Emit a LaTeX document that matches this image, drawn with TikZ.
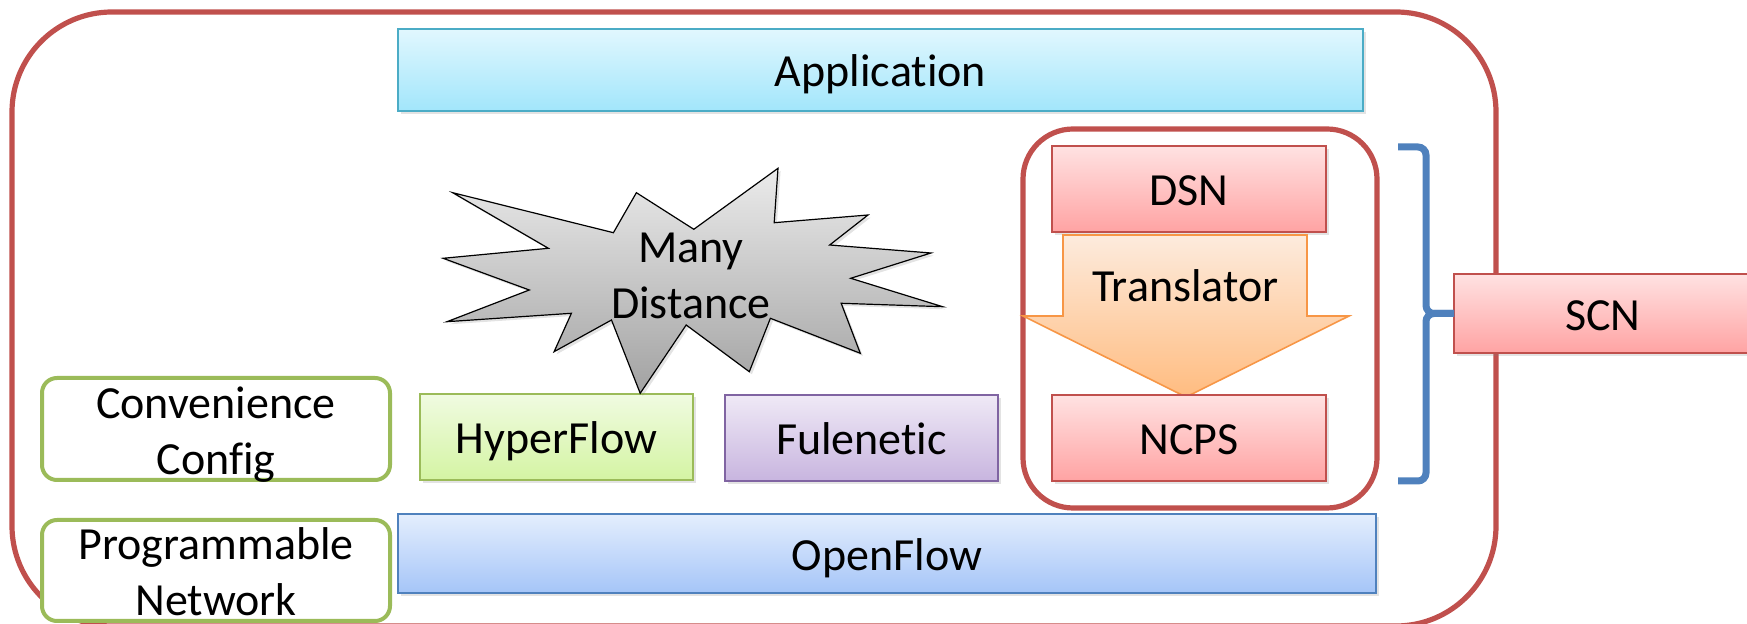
\documentclass[tikz,border=0pt]{standalone}
\usepackage{fontspec}
\setmainfont{Carlito}[Ligatures={NoCommon}]
\usetikzlibrary{shadows}

\definecolor{accRed}{HTML}{C0504D}
\definecolor{accBlue}{HTML}{4F81BD}
\definecolor{accGreen}{HTML}{9BBB59}
\definecolor{accPurple}{HTML}{8064A2}
\definecolor{accAqua}{HTML}{4BACC6}
\definecolor{accOrange}{HTML}{F79646}

\definecolor{aquaTop}{HTML}{E1F7FE}
\definecolor{aquaBot}{HTML}{A2E6FB}
\definecolor{greenTop}{HTML}{F0FBE1}
\definecolor{greenBot}{HTML}{D4F4A3}
\definecolor{purpleTop}{HTML}{EFE9F6}
\definecolor{purpleBot}{HTML}{C8B5DF}
\definecolor{redTop}{HTML}{FFE2E2}
\definecolor{redBot}{HTML}{FFA3A3}
\definecolor{blueTop}{HTML}{E4EEFD}
\definecolor{blueBot}{HTML}{A5C5F8}
\definecolor{orangeTop}{HTML}{FDEBDD}
\definecolor{orangeBot}{HTML}{FFBC80}
\definecolor{grayTop}{HTML}{EBEBEB}
\definecolor{grayBot}{HTML}{A2A2A2}

\begin{document}
\begin{tikzpicture}[x=0.5pt,y=-0.5pt,
  every node/.style={font=\fontsize{23}{28}\selectfont, inner sep=0pt, outer sep=0pt},
  softshadow/.style={drop shadow={shadow xshift=1.3pt, shadow yshift=-1.3pt, opacity=0.22}},
  layer/.style={draw, line width=1pt, text height=23pt, text depth=6pt, softshadow},
  aqualayer/.style={layer, draw=accAqua, top color=aquaTop, bottom color=aquaBot},
  greenlayer/.style={layer, draw=accGreen, top color=greenTop, bottom color=greenBot},
  purplelayer/.style={layer, draw=accPurple, top color=purpleTop, bottom color=purpleBot},
  redlayer/.style={layer, draw=accRed, top color=redTop, bottom color=redBot},
  bluelayer/.style={layer, draw=accBlue, top color=blueTop, bottom color=blueBot},
  frame/.style={draw=accRed, line width=2.6pt},
  tagbox/.style={draw=accGreen, line width=2pt, fill=white, rounded corners=7.5pt,
    minimum width=174pt},
  brace/.style={draw=accBlue, line width=3.5pt, rounded corners=4pt},
  burst/.style={draw=black, line width=0.6pt, top color=grayTop, bottom color=grayBot, softshadow},
  translate/.style={draw=accOrange, line width=0.8pt, top color=orangeTop, bottom color=orangeBot}
]
\useasboundingbox (0,0) rectangle (1747,624);

% whole system frame
\node[frame, rounded corners=50pt, minimum width=742pt, minimum height=307pt]
  (system) at (754,319) {};

% application layer
\node[aqualayer, minimum width=482.5pt, minimum height=41pt]
  (app) at (880.5,70) {Application};

% SCN group: DSN translated into NCPS
\node[frame, rounded corners=25pt, minimum width=177pt, minimum height=189.5pt]
  (scnframe) at (1200,318.5) {};
\node[redlayer, minimum width=137pt, minimum height=43pt] (dsn) at (1189,189) {DSN};
\filldraw[translate] (1063,235) -- (1307,235) -- (1307,316) -- (1349,316)
  -- (1186,397) -- (1023,316) -- (1063,316) -- cycle;
\node[anchor=base] (translator) at (1185.5,302) {Translator};
\node[redlayer, minimum width=137pt, minimum height=43pt] (ncps) at (1189,438) {NCPS};

% other configuration frameworks
\node[greenlayer, minimum width=136.5pt, minimum height=43pt] (hyper) at (556.5,437) {HyperFlow};
\node[purplelayer, minimum width=136.5pt, minimum height=43pt] (fule) at (861.5,438) {Fulenetic};

% forwarding layer
\node[bluelayer, minimum width=489pt, minimum height=39.5pt] (openflow) at (887,553.5) {OpenFlow};

% explosion shape
\path[burst] (452.7,192.7) -- (613.4,232.7) -- (636.4,192.7) -- (693.8,229.3)
  -- (778,168.3) -- (774.2,222.7) -- (868,215) -- (829.7,245) -- (931,253)
  -- (850.7,278.3) -- (942.6,306.7) -- (841.2,303.3) -- (860.3,353.3)
  -- (770.4,318.3) -- (749.3,371.7) -- (686.2,325) -- (640.2,393.3)
  -- (611.5,320) -- (554.1,351.7) -- (571.4,313.3) -- (447,321.7)
  -- (529.3,290) -- (443.1,258.3) -- (548.4,248.3) -- cycle;
\node[align=center] (many) at (691,275.5) {Many\\Distance};

% side tags
\node[tagbox, minimum height=51pt] (conv) at (216,429) {};
\node[align=center] (convtext) at (216,435) {Convenience\\Config};
\node[tagbox, minimum height=50.5pt] (prog) at (216,570.5) {};
\node[align=center] (progtext) at (216,572) {Programmable\\Network};

% SCN label and its brace
\node[redlayer, minimum width=149pt, minimum height=39.5pt] (scn) at (1603,313.5) {SCN};
\coordinate (bracetop) at (1398,147);
\coordinate (bracebot) at (1398,481);
\draw[brace] (bracetop) -- (1426,147) -- (1426,313.5) -- (scn.west);
\draw[brace] (scn.west) -- (1426,313.5) -- (1426,481) -- (bracebot);
\end{tikzpicture}
\end{document}
